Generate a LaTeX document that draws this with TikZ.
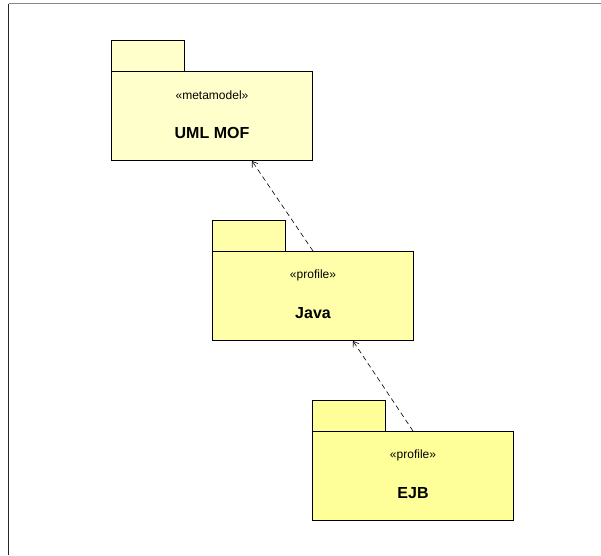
\documentclass[tikz,border=0pt]{standalone}
\usepackage{fontspec}
\setmainfont{Liberation Sans}
\usetikzlibrary{arrows.meta}
\definecolor{mofyellow}{HTML}{FFFFCC}
\definecolor{javayellow}{HTML}{FFFFAA}
\definecolor{ejbyellow}{HTML}{FFFF99}
\definecolor{framegrey}{HTML}{888888}
\begin{document}
\begin{tikzpicture}[x=1pt,y=-1pt,
  pkgbody/.style={draw=black, line width=1pt, anchor=north west,
    minimum width=201pt, minimum height=89pt, inner sep=0pt},
  pkgtab/.style={draw=black, line width=1pt, anchor=north west,
    minimum width=73pt, minimum height=31pt, inner sep=0pt},
  stereo/.style={font=\fontsize{12}{14}\selectfont, inner sep=0pt},
  pkgname/.style={font=\fontsize{16}{18}\selectfont\bfseries, inner sep=0pt},
  dep/.style={draw=black, line width=0.6pt, dash pattern=on 5pt off 3.5pt,
    -{Straight Barb[length=5pt,width=7pt]}}
]
\useasboundingbox (0,0) rectangle (601,555);

% diagram frame (top and left edges)
\draw[framegrey, line width=1pt] (8.5,3.5) -- (601,3.5);
\draw[black!85, line width=1pt] (8.5,3.5) -- (8.5,555);

% UML MOF metamodel package
\node[pkgtab, fill=mofyellow] (moftab) at (111,40) {};
\node[pkgbody, fill=mofyellow] (mof) at (111,71) {};
\node[stereo] (mofst) at ([yshift=-24pt]mof.north) {«metamodel»};
\node[pkgname] (mofname) at ([yshift=-62pt]mof.north) {UML MOF};

% Java profile package
\node[pkgtab, fill=javayellow] (javatab) at (212,220) {};
\node[pkgbody, fill=javayellow] (java) at (212,251) {};
\node[stereo] (javast) at ([yshift=-24pt]java.north) {«profile»};
\node[pkgname] (javaname) at ([yshift=-62pt]java.north) {Java};

% EJB profile package
\node[pkgtab, fill=ejbyellow] (ejbtab) at (312,400) {};
\node[pkgbody, fill=ejbyellow] (ejb) at (312,431) {};
\node[stereo] (ejbst) at ([yshift=-24pt]ejb.north) {«profile»};
\node[pkgname] (ejbname) at ([yshift=-62pt]ejb.north) {EJB};

% dependencies
\draw[dep] (java.north) -- ([xshift=40pt]mof.south);
\draw[dep] (ejb.north) -- ([xshift=40pt]java.south);
\end{tikzpicture}
\end{document}
